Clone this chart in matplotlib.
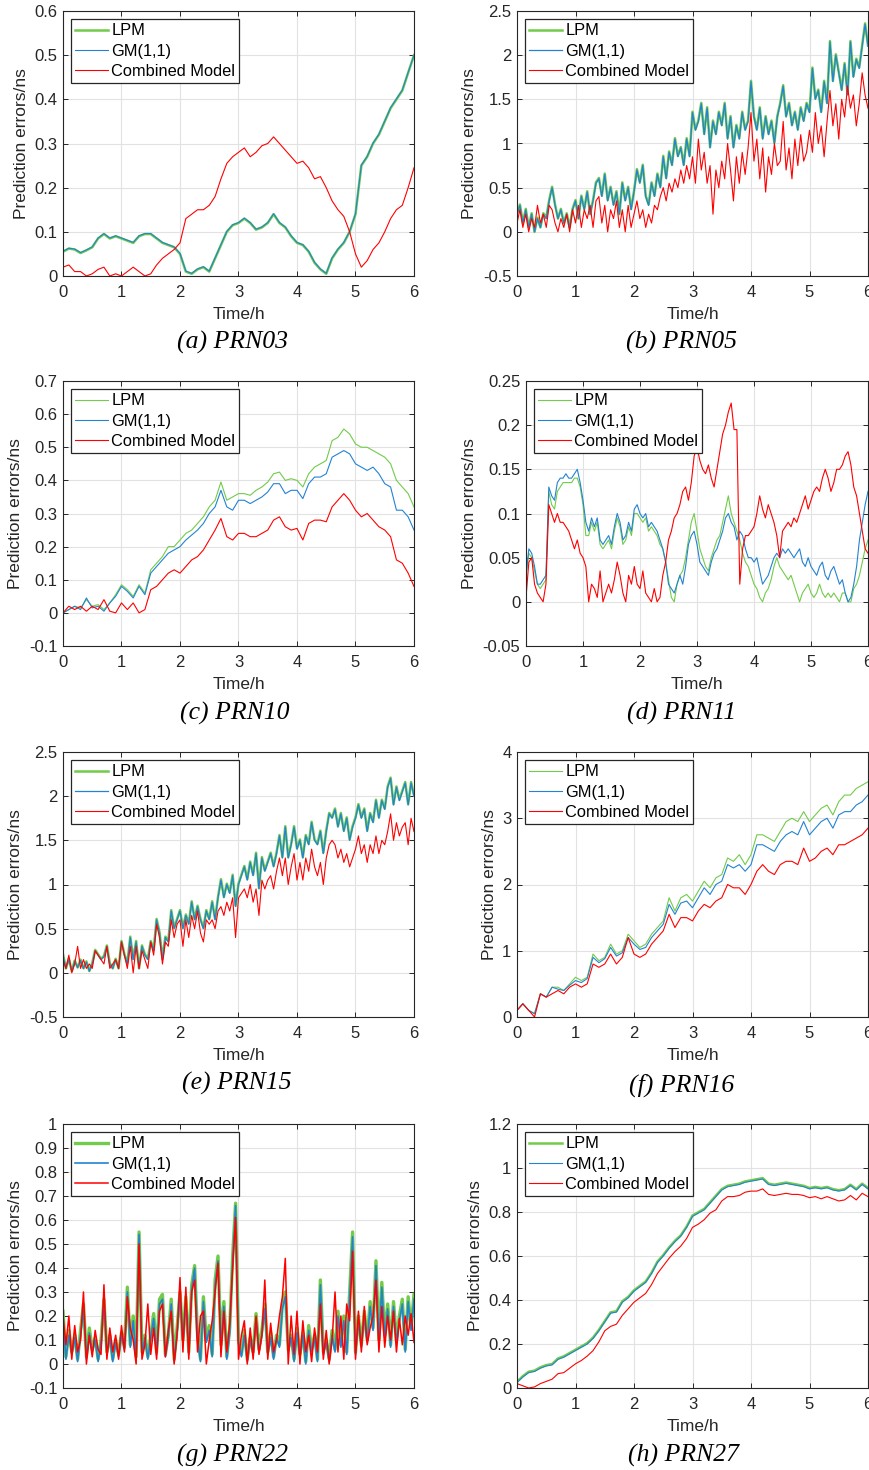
import numpy as np
import matplotlib
matplotlib.use("Agg")
import matplotlib.pyplot as plt

plt.rcParams['font.family'] = ['Liberation Sans', 'DejaVu Sans']
plt.rcParams['axes.unicode_minus'] = False

# ---------------- data ----------------
# (a) PRN03, 0.1 h step
lpm_a = [0.055, 0.062, 0.060, 0.052, 0.058, 0.065, 0.085, 0.095, 0.085, 0.090,
         0.085, 0.080, 0.075, 0.090, 0.095, 0.095, 0.085, 0.075, 0.070, 0.065,
         0.050, 0.010, 0.005, 0.015, 0.020, 0.010, 0.040, 0.070, 0.100, 0.115,
         0.120, 0.130, 0.120, 0.105, 0.110, 0.120, 0.140, 0.120, 0.110, 0.090,
         0.075, 0.070, 0.055, 0.030, 0.015, 0.005, 0.040, 0.060, 0.075, 0.100,
         0.140, 0.250, 0.270, 0.300, 0.320, 0.350, 0.380, 0.400, 0.420, 0.460, 0.500]
gm_a = [0.056, 0.063, 0.061, 0.053, 0.059, 0.066, 0.086, 0.096, 0.086, 0.091,
        0.086, 0.081, 0.076, 0.091, 0.096, 0.096, 0.086, 0.076, 0.071, 0.066,
        0.051, 0.011, 0.006, 0.016, 0.021, 0.011, 0.041, 0.071, 0.101, 0.116,
        0.121, 0.131, 0.121, 0.106, 0.111, 0.121, 0.141, 0.121, 0.111, 0.091,
        0.076, 0.071, 0.056, 0.031, 0.016, 0.006, 0.041, 0.061, 0.076, 0.101,
        0.141, 0.251, 0.271, 0.301, 0.321, 0.351, 0.381, 0.401, 0.421, 0.461, 0.500]
red_a = [0.020, 0.025, 0.010, 0.010, 0.000, 0.005, 0.015, 0.020, 0.000, 0.005,
         0.000, 0.010, 0.020, 0.010, 0.000, 0.005, 0.025, 0.040, 0.050, 0.060,
         0.075, 0.130, 0.140, 0.150, 0.150, 0.160, 0.180, 0.220, 0.255, 0.270,
         0.280, 0.290, 0.270, 0.280, 0.295, 0.300, 0.315, 0.300, 0.285, 0.270,
         0.255, 0.260, 0.245, 0.220, 0.225, 0.200, 0.170, 0.150, 0.135, 0.100,
         0.050, 0.020, 0.035, 0.060, 0.075, 0.100, 0.130, 0.150, 0.160, 0.200, 0.245]

# (b) PRN05, 0.05 h step
lpm_b = [0.20, 0.31, 0.10, 0.26, 0.05, 0.21, 0.00, 0.16, 0.05, 0.21,
         0.16, 0.36, 0.51, 0.31, 0.15, 0.26, 0.10, 0.21, 0.05, 0.26,
         0.36, 0.15, 0.41, 0.26, 0.46, 0.20, 0.36, 0.56, 0.61, 0.41,
         0.66, 0.36, 0.51, 0.31, 0.46, 0.20, 0.56, 0.36, 0.51, 0.26,
         0.46, 0.71, 0.56, 0.76, 0.41, 0.31, 0.56, 0.41, 0.66, 0.51,
         0.86, 0.61, 0.91, 0.76, 1.06, 0.86, 0.96, 0.76, 1.06, 0.86,
         1.36, 1.16, 1.26, 1.46, 1.11, 1.41, 0.96, 1.26, 1.11, 1.36,
         1.21, 1.46, 1.06, 1.31, 0.96, 1.21, 1.06, 1.36, 1.16, 1.26,
         1.71, 1.31, 1.16, 1.41, 1.06, 1.31, 1.11, 1.26, 1.01, 1.31,
         1.46, 1.66, 1.31, 1.46, 1.21, 1.36, 1.16, 1.41, 1.26, 1.46,
         1.36, 1.86, 1.51, 1.61, 1.36, 1.71, 1.46, 2.16, 1.71, 2.01,
         1.81, 1.61, 1.91, 1.56, 2.16, 1.76, 1.96, 1.86, 2.11, 2.36,
         2.11]
gm_b = [0.20, 0.30, 0.10, 0.25, 0.05, 0.20, 0.00, 0.15, 0.05, 0.20,
        0.15, 0.35, 0.50, 0.30, 0.15, 0.25, 0.10, 0.20, 0.05, 0.25,
        0.35, 0.15, 0.40, 0.25, 0.45, 0.20, 0.35, 0.55, 0.60, 0.40,
        0.65, 0.35, 0.50, 0.30, 0.45, 0.20, 0.55, 0.35, 0.50, 0.25,
        0.45, 0.70, 0.55, 0.75, 0.40, 0.30, 0.55, 0.40, 0.65, 0.50,
        0.85, 0.60, 0.90, 0.75, 1.05, 0.85, 0.95, 0.75, 1.05, 0.85,
        1.35, 1.15, 1.25, 1.45, 1.10, 1.40, 0.95, 1.25, 1.10, 1.35,
        1.20, 1.45, 1.05, 1.30, 0.95, 1.20, 1.05, 1.35, 1.15, 1.25,
        1.70, 1.30, 1.15, 1.40, 1.05, 1.30, 1.10, 1.25, 1.00, 1.30,
        1.45, 1.65, 1.30, 1.45, 1.20, 1.35, 1.15, 1.40, 1.25, 1.45,
        1.35, 1.85, 1.50, 1.60, 1.35, 1.70, 1.45, 2.15, 1.70, 2.00,
        1.80, 1.60, 1.90, 1.55, 2.15, 1.75, 1.95, 1.85, 2.10, 2.35,
        2.10]
red_b = [0.10, 0.25, 0.05, 0.20, 0.00, 0.15, 0.05, 0.30, 0.10, 0.20,
         0.05, 0.30, 0.25, 0.10, 0.00, 0.15, 0.05, 0.20, 0.00, 0.25,
         0.10, 0.30, 0.05, 0.25, 0.15, 0.30, 0.05, 0.35, 0.40, 0.10,
         0.30, 0.00, 0.25, 0.15, 0.35, 0.05, 0.25, 0.00, 0.30, 0.05,
         0.20, 0.35, 0.15, 0.25, 0.05, 0.20, 0.10, 0.30, 0.25, 0.40,
         0.50, 0.35, 0.55, 0.45, 0.60, 0.50, 0.70, 0.55, 0.75, 0.60,
         0.85, 0.55, 1.05, 0.70, 0.90, 0.55, 0.75, 0.20, 0.70, 0.50,
         0.80, 0.60, 1.00, 0.70, 0.35, 0.85, 0.55, 0.90, 0.65, 0.95,
         1.35, 0.80, 1.05, 0.60, 0.95, 0.45, 0.85, 0.65, 1.00, 0.75,
         0.80, 1.25, 0.70, 0.95, 0.60, 1.05, 0.75, 1.10, 0.80, 0.90,
         1.15, 0.90, 1.35, 1.00, 1.20, 0.85, 1.25, 1.60, 1.20, 1.45,
         1.05, 1.50, 1.30, 1.65, 1.40, 1.55, 1.20, 1.45, 1.80, 1.55,
         1.40]

# (c) PRN10, 0.1 h step
lpm_c = [0.000, 0.010, 0.020, 0.015, 0.040, 0.020, 0.025, 0.010, 0.030, 0.055,
         0.085, 0.070, 0.050, 0.085, 0.060, 0.130, 0.150, 0.170, 0.200, 0.200,
         0.220, 0.240, 0.250, 0.270, 0.290, 0.320, 0.340, 0.395, 0.340, 0.350,
         0.360, 0.360, 0.355, 0.370, 0.380, 0.395, 0.420, 0.425, 0.400, 0.405,
         0.400, 0.380, 0.420, 0.440, 0.450, 0.460, 0.520, 0.530, 0.555, 0.540,
         0.510, 0.500, 0.500, 0.490, 0.480, 0.470, 0.450, 0.400, 0.380, 0.360, 0.320]
gm_c = [0.000, 0.010, 0.020, 0.010, 0.045, 0.015, 0.020, 0.005, 0.030, 0.050,
        0.080, 0.065, 0.045, 0.080, 0.055, 0.120, 0.140, 0.160, 0.180, 0.190,
        0.200, 0.220, 0.235, 0.250, 0.270, 0.300, 0.320, 0.370, 0.320, 0.310,
        0.340, 0.340, 0.330, 0.340, 0.350, 0.365, 0.390, 0.390, 0.360, 0.370,
        0.370, 0.345, 0.390, 0.410, 0.410, 0.420, 0.470, 0.480, 0.490, 0.480,
        0.450, 0.440, 0.430, 0.440, 0.420, 0.390, 0.380, 0.310, 0.310, 0.290, 0.250]
red_c = [0.000, 0.020, 0.010, 0.020, 0.005, 0.020, 0.010, 0.040, 0.005, 0.000,
         0.030, 0.010, 0.030, 0.000, 0.010, 0.070, 0.080, 0.100, 0.120, 0.130,
         0.120, 0.140, 0.160, 0.170, 0.190, 0.220, 0.250, 0.285, 0.230, 0.220,
         0.240, 0.240, 0.230, 0.230, 0.240, 0.250, 0.280, 0.290, 0.260, 0.250,
         0.255, 0.220, 0.270, 0.280, 0.280, 0.275, 0.320, 0.340, 0.360, 0.340,
         0.310, 0.290, 0.300, 0.280, 0.260, 0.250, 0.230, 0.160, 0.150, 0.120, 0.080]

# (d) PRN11, 0.05 h step
lpm_d = [0.030, 0.055, 0.050, 0.035, 0.020, 0.015, 0.020, 0.025, 0.125, 0.110,
         0.105, 0.125, 0.130, 0.135, 0.135, 0.135, 0.135, 0.140, 0.140, 0.130,
         0.110, 0.075, 0.075, 0.090, 0.080, 0.090, 0.065, 0.060, 0.065, 0.070,
         0.060, 0.080, 0.095, 0.085, 0.065, 0.070, 0.085, 0.075, 0.100, 0.100,
         0.095, 0.090, 0.095, 0.080, 0.085, 0.080, 0.075, 0.065, 0.060, 0.045,
         0.025, 0.005, 0.000, 0.020, 0.030, 0.035, 0.050, 0.070, 0.090, 0.100,
         0.080, 0.060, 0.050, 0.040, 0.035, 0.050, 0.060, 0.070, 0.075, 0.090,
         0.105, 0.120, 0.100, 0.090, 0.080, 0.070, 0.055, 0.045, 0.040, 0.030,
         0.020, 0.015, 0.005, 0.000, 0.010, 0.015, 0.025, 0.040, 0.050, 0.040,
         0.035, 0.030, 0.025, 0.030, 0.020, 0.010, 0.000, 0.010, 0.015, 0.020,
         0.010, 0.005, 0.010, 0.020, 0.010, 0.005, 0.010, 0.005, 0.010, 0.005,
         0.000, 0.010, 0.010, 0.000, 0.000, 0.015, 0.020, 0.030, 0.045, 0.060,
         0.070]
gm_d = [0.030, 0.060, 0.055, 0.040, 0.020, 0.020, 0.025, 0.030, 0.130, 0.120,
        0.115, 0.135, 0.140, 0.140, 0.145, 0.140, 0.140, 0.145, 0.150, 0.135,
        0.115, 0.090, 0.080, 0.095, 0.085, 0.095, 0.070, 0.065, 0.070, 0.075,
        0.065, 0.085, 0.100, 0.090, 0.070, 0.075, 0.090, 0.080, 0.105, 0.110,
        0.100, 0.095, 0.100, 0.085, 0.090, 0.085, 0.080, 0.070, 0.060, 0.045,
        0.020, 0.015, 0.010, 0.020, 0.030, 0.020, 0.040, 0.065, 0.075, 0.080,
        0.065, 0.045, 0.040, 0.035, 0.030, 0.045, 0.055, 0.060, 0.070, 0.080,
        0.095, 0.100, 0.090, 0.085, 0.070, 0.080, 0.075, 0.060, 0.050, 0.050,
        0.045, 0.050, 0.035, 0.020, 0.025, 0.030, 0.040, 0.050, 0.055, 0.050,
        0.060, 0.055, 0.060, 0.055, 0.050, 0.055, 0.060, 0.045, 0.040, 0.050,
        0.040, 0.035, 0.030, 0.040, 0.045, 0.030, 0.025, 0.035, 0.040, 0.030,
        0.020, 0.025, 0.010, 0.000, 0.005, 0.020, 0.040, 0.070, 0.090, 0.110,
        0.125]
red_d = [0.005, 0.045, 0.050, 0.020, 0.010, 0.005, 0.000, 0.020, 0.110, 0.100,
         0.090, 0.100, 0.090, 0.090, 0.085, 0.080, 0.070, 0.060, 0.070, 0.055,
         0.050, 0.040, 0.000, 0.020, 0.015, 0.005, 0.035, 0.000, 0.010, 0.020,
         0.010, 0.025, 0.045, 0.030, 0.010, 0.000, 0.030, 0.020, 0.040, 0.020,
         0.015, 0.035, 0.010, 0.005, 0.000, 0.015, 0.000, 0.005, 0.030, 0.045,
         0.070, 0.080, 0.095, 0.100, 0.110, 0.125, 0.130, 0.115, 0.135, 0.165,
         0.175, 0.160, 0.150, 0.145, 0.155, 0.140, 0.130, 0.150, 0.170, 0.190,
         0.200, 0.215, 0.225, 0.195, 0.195, 0.020, 0.060, 0.075, 0.075, 0.080,
         0.085, 0.100, 0.120, 0.105, 0.095, 0.110, 0.100, 0.090, 0.075, 0.050,
         0.080, 0.085, 0.090, 0.085, 0.095, 0.090, 0.100, 0.110, 0.120, 0.105,
         0.115, 0.125, 0.130, 0.125, 0.140, 0.150, 0.140, 0.125, 0.135, 0.150,
         0.150, 0.155, 0.165, 0.170, 0.155, 0.130, 0.120, 0.100, 0.080, 0.060,
         0.055]

# (e) PRN15, 0.05 h step
lpm_e = [0.21, 0.05, 0.16, 0.02, 0.14, 0.06, 0.15, 0.05, 0.13, 0.02,
         0.11, 0.26, 0.21, 0.16, 0.19, 0.31, 0.11, 0.05, 0.16, 0.05,
         0.36, 0.21, 0.11, 0.41, 0.16, 0.36, 0.05, 0.31, 0.21, 0.16,
         0.36, 0.26, 0.61, 0.46, 0.16, 0.41, 0.36, 0.71, 0.51, 0.61,
         0.71, 0.51, 0.66, 0.56, 0.81, 0.61, 0.76, 0.61, 0.51, 0.71,
         0.61, 0.81, 0.61, 0.86, 1.06, 0.86, 1.01, 0.91, 1.11, 0.76,
         1.01, 1.11, 1.21, 1.06, 1.26, 1.11, 1.36, 0.96, 1.31, 1.16,
         1.26, 1.36, 1.21, 1.36, 1.56, 1.31, 1.66, 1.31, 1.46, 1.66,
         1.41, 1.51, 1.31, 1.56, 1.46, 1.71, 1.51, 1.46, 1.61, 1.36,
         1.61, 1.81, 1.76, 1.86, 1.66, 1.81, 1.61, 1.76, 1.51, 1.66,
         1.76, 1.91, 1.76, 1.86, 1.61, 1.81, 1.71, 1.96, 1.76, 1.96,
         1.86, 2.11, 2.21, 1.91, 2.11, 1.96, 2.06, 2.16, 1.91, 2.16,
         2.01]
gm_e = [0.20, 0.05, 0.15, 0.02, 0.13, 0.06, 0.14, 0.05, 0.12, 0.02,
        0.10, 0.25, 0.20, 0.15, 0.18, 0.30, 0.10, 0.05, 0.15, 0.05,
        0.35, 0.20, 0.10, 0.40, 0.15, 0.35, 0.05, 0.30, 0.20, 0.15,
        0.35, 0.25, 0.60, 0.45, 0.15, 0.40, 0.35, 0.70, 0.50, 0.60,
        0.70, 0.50, 0.65, 0.55, 0.80, 0.60, 0.75, 0.60, 0.50, 0.70,
        0.60, 0.80, 0.60, 0.85, 1.05, 0.85, 1.00, 0.90, 1.10, 0.75,
        1.00, 1.10, 1.20, 1.05, 1.25, 1.10, 1.35, 0.95, 1.30, 1.15,
        1.25, 1.35, 1.20, 1.35, 1.55, 1.30, 1.65, 1.30, 1.45, 1.65,
        1.40, 1.50, 1.30, 1.55, 1.45, 1.70, 1.50, 1.45, 1.60, 1.35,
        1.60, 1.80, 1.75, 1.85, 1.65, 1.80, 1.60, 1.75, 1.50, 1.65,
        1.75, 1.90, 1.75, 1.85, 1.60, 1.80, 1.70, 1.95, 1.75, 1.95,
        1.85, 2.10, 2.20, 1.90, 2.10, 1.95, 2.05, 2.15, 1.90, 2.15,
        2.00]
red_e = [0.15, 0.05, 0.20, 0.00, 0.10, 0.30, 0.05, 0.15, 0.05, 0.10,
         0.05, 0.25, 0.20, 0.15, 0.10, 0.30, 0.05, 0.10, 0.15, 0.05,
         0.35, 0.20, 0.05, 0.30, 0.00, 0.30, 0.05, 0.25, 0.15, 0.05,
         0.35, 0.20, 0.55, 0.40, 0.10, 0.35, 0.30, 0.60, 0.40, 0.55,
         0.60, 0.30, 0.60, 0.40, 0.65, 0.50, 0.70, 0.45, 0.35, 0.60,
         0.55, 0.60, 0.50, 0.70, 0.75, 0.65, 0.80, 0.70, 0.85, 0.40,
         0.85, 0.90, 0.95, 0.85, 1.00, 0.80, 0.95, 0.65, 1.05, 0.95,
         1.05, 1.10, 0.95, 1.15, 1.30, 1.10, 1.30, 1.00, 1.20, 1.35,
         1.05, 1.25, 1.05, 1.30, 1.15, 1.40, 1.20, 1.10, 1.25, 1.00,
         1.30, 1.45, 1.50, 1.45, 1.30, 1.40, 1.25, 1.35, 1.20, 1.30,
         1.40, 1.55, 1.35, 1.45, 1.25, 1.45, 1.35, 1.55, 1.35, 1.50,
         1.45, 1.60, 1.80, 1.50, 1.70, 1.55, 1.65, 1.70, 1.45, 1.75,
         1.60]

# (f) PRN16, 0.1 h step
lpm_f = [0.10, 0.20, 0.10, 0.05, 0.35, 0.30, 0.45, 0.45, 0.40, 0.50,
         0.60, 0.55, 0.60, 0.95, 0.85, 0.90, 1.10, 0.95, 1.00, 1.25,
         1.15, 1.05, 1.10, 1.25, 1.35, 1.45, 1.80, 1.60, 1.80, 1.85,
         1.75, 1.90, 2.05, 1.95, 2.10, 2.15, 2.40, 2.35, 2.45, 2.30,
         2.45, 2.75, 2.75, 2.70, 2.65, 2.80, 2.95, 3.00, 2.95, 3.10,
         2.95, 3.05, 3.15, 3.20, 3.05, 3.25, 3.35, 3.35, 3.45, 3.50,
         3.55]
gm_f = [0.10, 0.20, 0.10, 0.05, 0.35, 0.30, 0.45, 0.42, 0.40, 0.48,
        0.55, 0.52, 0.58, 0.90, 0.82, 0.88, 1.05, 0.92, 0.97, 1.20,
        1.10, 1.02, 1.05, 1.20, 1.30, 1.40, 1.70, 1.55, 1.72, 1.75,
        1.65, 1.80, 1.95, 1.85, 2.00, 2.05, 2.30, 2.25, 2.30, 2.20,
        2.30, 2.60, 2.60, 2.55, 2.50, 2.65, 2.75, 2.80, 2.75, 2.95,
        2.75, 2.85, 2.95, 3.00, 2.85, 3.05, 3.10, 3.10, 3.20, 3.25,
        3.35]
red_f = [0.10, 0.20, 0.10, 0.00, 0.35, 0.30, 0.35, 0.40, 0.35, 0.45,
         0.50, 0.45, 0.50, 0.80, 0.75, 0.80, 0.95, 0.80, 0.90, 1.20,
         0.95, 0.90, 0.95, 1.10, 1.20, 1.30, 1.55, 1.35, 1.50, 1.50,
         1.45, 1.60, 1.70, 1.65, 1.75, 1.80, 2.00, 1.95, 1.95, 1.85,
         2.00, 2.20, 2.30, 2.20, 2.15, 2.30, 2.35, 2.35, 2.30, 2.55,
         2.35, 2.40, 2.50, 2.55, 2.45, 2.60, 2.60, 2.65, 2.70, 2.75,
         2.85]

# (g) PRN22, 0.05 h step
lpm_g = [0.22, 0.03, 0.14, 0.05, 0.12, 0.02, 0.14, 0.25, 0.03, 0.15,
         0.06, 0.11, 0.02, 0.10, 0.27, 0.05, 0.12, 0.02, 0.10, 0.04,
         0.13, 0.07, 0.32, 0.08, 0.20, 0.03, 0.55, 0.05, 0.12, 0.03,
         0.12, 0.21, 0.05, 0.27, 0.29, 0.04, 0.12, 0.27, 0.02, 0.15,
         0.30, 0.10, 0.28, 0.05, 0.33, 0.41, 0.12, 0.02, 0.28, 0.10,
         0.16, 0.04, 0.35, 0.45, 0.08, 0.26, 0.03, 0.15, 0.45, 0.67,
         0.10, 0.04, 0.14, 0.02, 0.11, 0.05, 0.21, 0.06, 0.14, 0.25,
         0.05, 0.13, 0.03, 0.12, 0.08, 0.25, 0.30, 0.06, 0.12, 0.02,
         0.15, 0.04, 0.13, 0.01, 0.16, 0.06, 0.12, 0.02, 0.35, 0.05,
         0.10, 0.02, 0.14, 0.06, 0.22, 0.08, 0.20, 0.05, 0.30, 0.55,
         0.05, 0.20, 0.08, 0.22, 0.10, 0.26, 0.15, 0.43, 0.10, 0.34,
         0.12, 0.25, 0.08, 0.26, 0.10, 0.20, 0.27, 0.06, 0.28, 0.15,
         0.29]
gm_g = [0.20, 0.02, 0.12, 0.04, 0.11, 0.01, 0.12, 0.23, 0.02, 0.13,
        0.05, 0.10, 0.01, 0.09, 0.25, 0.04, 0.11, 0.01, 0.09, 0.03,
        0.12, 0.06, 0.30, 0.07, 0.18, 0.02, 0.54, 0.04, 0.11, 0.02,
        0.11, 0.19, 0.04, 0.25, 0.27, 0.03, 0.11, 0.25, 0.01, 0.13,
        0.28, 0.09, 0.26, 0.04, 0.31, 0.40, 0.11, 0.01, 0.26, 0.09,
        0.14, 0.03, 0.33, 0.43, 0.07, 0.24, 0.02, 0.13, 0.43, 0.66,
        0.09, 0.03, 0.12, 0.01, 0.10, 0.04, 0.19, 0.05, 0.12, 0.23,
        0.04, 0.11, 0.02, 0.11, 0.07, 0.23, 0.28, 0.05, 0.11, 0.01,
        0.13, 0.03, 0.12, 0.00, 0.14, 0.05, 0.11, 0.01, 0.33, 0.04,
        0.09, 0.01, 0.12, 0.05, 0.20, 0.07, 0.18, 0.04, 0.28, 0.53,
        0.04, 0.18, 0.07, 0.20, 0.09, 0.24, 0.14, 0.41, 0.09, 0.32,
        0.11, 0.23, 0.07, 0.24, 0.09, 0.18, 0.25, 0.05, 0.26, 0.14,
        0.27]
red_g = [0.20, 0.08, 0.20, 0.02, 0.16, 0.05, 0.10, 0.30, 0.00, 0.12,
         0.03, 0.14, 0.06, 0.04, 0.33, 0.02, 0.15, 0.05, 0.12, 0.02,
         0.16, 0.05, 0.28, 0.15, 0.10, 0.00, 0.50, 0.02, 0.08, 0.25,
         0.04, 0.15, 0.02, 0.22, 0.25, 0.03, 0.14, 0.22, 0.00, 0.12,
         0.36, 0.05, 0.32, 0.02, 0.30, 0.35, 0.05, 0.20, 0.22, 0.00,
         0.10, 0.18, 0.30, 0.42, 0.03, 0.22, 0.05, 0.17, 0.40, 0.61,
         0.02, 0.12, 0.18, 0.00, 0.15, 0.02, 0.20, 0.04, 0.12, 0.35,
         0.02, 0.17, 0.05, 0.10, 0.20, 0.28, 0.44, 0.00, 0.20, 0.04,
         0.22, 0.00, 0.18, 0.05, 0.12, 0.01, 0.15, 0.05, 0.25, 0.02,
         0.14, 0.00, 0.10, 0.30, 0.05, 0.20, 0.02, 0.25, 0.18, 0.47,
         0.02, 0.22, 0.05, 0.24, 0.08, 0.15, 0.20, 0.35, 0.05, 0.24,
         0.07, 0.20, 0.10, 0.22, 0.05, 0.19, 0.08, 0.20, 0.12, 0.21,
         0.09]

# (h) PRN27, 0.1 h step
lpm_h = [0.028, 0.054, 0.074, 0.079, 0.094, 0.104, 0.109, 0.134, 0.144, 0.159,
         0.174, 0.189, 0.204, 0.229, 0.264, 0.304, 0.344, 0.349, 0.394, 0.414,
         0.444, 0.464, 0.484, 0.524, 0.574, 0.604, 0.639, 0.669, 0.694, 0.734,
         0.784, 0.799, 0.814, 0.844, 0.874, 0.904, 0.919, 0.924, 0.929, 0.939,
         0.944, 0.949, 0.954, 0.929, 0.924, 0.929, 0.934, 0.929, 0.924, 0.919,
         0.909, 0.914, 0.909, 0.914, 0.904, 0.899, 0.904, 0.924, 0.904, 0.929, 0.909]
gm_h = [0.025, 0.050, 0.070, 0.075, 0.090, 0.100, 0.105, 0.130, 0.140, 0.155,
        0.170, 0.185, 0.200, 0.225, 0.260, 0.300, 0.340, 0.345, 0.390, 0.410,
        0.440, 0.460, 0.480, 0.520, 0.570, 0.600, 0.635, 0.665, 0.690, 0.730,
        0.780, 0.795, 0.810, 0.840, 0.870, 0.900, 0.915, 0.920, 0.925, 0.935,
        0.940, 0.945, 0.950, 0.925, 0.920, 0.925, 0.930, 0.925, 0.920, 0.915,
        0.905, 0.910, 0.905, 0.910, 0.900, 0.895, 0.900, 0.920, 0.900, 0.925, 0.905]
red_h = [0.020, 0.010, 0.000, 0.005, 0.020, 0.030, 0.040, 0.065, 0.070, 0.090,
         0.110, 0.125, 0.145, 0.170, 0.210, 0.260, 0.280, 0.290, 0.330, 0.360,
         0.390, 0.410, 0.430, 0.470, 0.520, 0.555, 0.590, 0.620, 0.645, 0.680,
         0.730, 0.745, 0.765, 0.795, 0.810, 0.850, 0.870, 0.870, 0.875, 0.890,
         0.895, 0.895, 0.905, 0.880, 0.875, 0.880, 0.885, 0.880, 0.880, 0.875,
         0.865, 0.870, 0.860, 0.870, 0.860, 0.850, 0.855, 0.875, 0.855, 0.885, 0.870]

labels = ["LPM", "GM(1,1)", "Combined Model"]
c_lpm = '#72CB4A'
c_gm = '#2383D2'
c_red = '#FF0000'

W, H = 870, 1470


def box(l, t, r, b):
    # pixel box -> figure fraction
    return [l / W, 1 - b / H, (r - l) / W, (b - t) / H]


def panel(rect, lpm, gm, red, yticks, lw, caption, cap_xy):
    ax = fig.add_axes(box(*rect))
    t = np.linspace(0, 6, len(gm))
    ax.plot(t, lpm, color=c_lpm, lw=lw[0], label=labels[0])
    ax.plot(t, gm, color=c_gm, lw=lw[1], label=labels[1])
    ax.plot(t, red, color=c_red, lw=lw[2], label=labels[2])
    ax.set_xlim(0, 6)
    ax.set_ylim(yticks[0], yticks[-1])
    ax.set_xticks(range(7))
    ax.set_yticks(yticks)
    ax.set_yticklabels(['%g' % v for v in yticks])
    ax.grid(True, color='#E2E2E2', lw=0.8)
    ax.set_axisbelow(True)
    ax.tick_params(direction='in', length=3.5, width=0.7, top=True, right=True,
                   labelsize=12, colors='#262626')
    ax.tick_params(axis='x', pad=6.5)
    ax.tick_params(axis='y', pad=4)
    for s in ax.spines.values():
        s.set_color('#262626')
        s.set_linewidth(0.8)
    ax.set_xlabel('Time/h', fontsize=12.5, labelpad=5, color='#262626')
    ax.set_ylabel('Prediction errors/ns', fontsize=12.5, labelpad=4, color='#262626')
    leg = ax.legend(loc='upper left', fontsize=11.8, fancybox=False, framealpha=1,
                    edgecolor='#262626', borderaxespad=0.5, handlelength=2.0,
                    handletextpad=0.2, borderpad=0.25, labelspacing=0.33)
    leg.get_frame().set_linewidth(0.9)
    fig.text(cap_xy[0] / W, 1 - cap_xy[1] / H, caption, family='Liberation Serif',
             style='italic', fontsize=18.5, ha='center', va='center')
    return ax


fig = plt.figure(figsize=(8.7, 14.7), dpi=100)

panel((63, 11, 414, 276), lpm_a, gm_a, red_a, [0, 0.1, 0.2, 0.3, 0.4, 0.5, 0.6],
      (1.8, 0.8, 0.8), '(a) PRN03', (233, 342))
panel((517, 11, 868, 276), lpm_b, gm_b, red_b, [-0.5, 0, 0.5, 1, 1.5, 2, 2.5],
      (1.8, 0.9, 0.8), '(b) PRN05', (682, 342))
panel((63, 381, 414, 646), lpm_c, gm_c, red_c, [-0.1, 0, 0.1, 0.2, 0.3, 0.4, 0.5, 0.6, 0.7],
      (0.8, 0.8, 0.8), '(c) PRN10', (235, 713))
panel((526, 381, 868, 646), lpm_d, gm_d, red_d, [-0.05, 0, 0.05, 0.1, 0.15, 0.2, 0.25],
      (0.8, 0.8, 0.8), '(d) PRN11', (682, 713))
panel((63, 752, 414, 1017), lpm_e, gm_e, red_e, [-0.5, 0, 0.5, 1, 1.5, 2, 2.5],
      (1.8, 0.9, 0.8), '(e) PRN15', (237, 1083))
panel((517, 752, 868, 1017), lpm_f, gm_f, red_f, [0, 1, 2, 3, 4],
      (0.8, 0.8, 0.8), '(f) PRN16', (682, 1085))
panel((63, 1124, 414, 1388), lpm_g, gm_g, red_g,
      [-0.1, 0, 0.1, 0.2, 0.3, 0.4, 0.5, 0.6, 0.7, 0.8, 0.9, 1],
      (2.4, 1.2, 1.1), '(g) PRN22', (233, 1455))
panel((517, 1124, 868, 1388), lpm_h, gm_h, red_h, [0, 0.2, 0.4, 0.6, 0.8, 1, 1.2],
      (1.8, 0.8, 0.8), '(h) PRN27', (683, 1455))

fig.savefig('out.png', dpi=100)
